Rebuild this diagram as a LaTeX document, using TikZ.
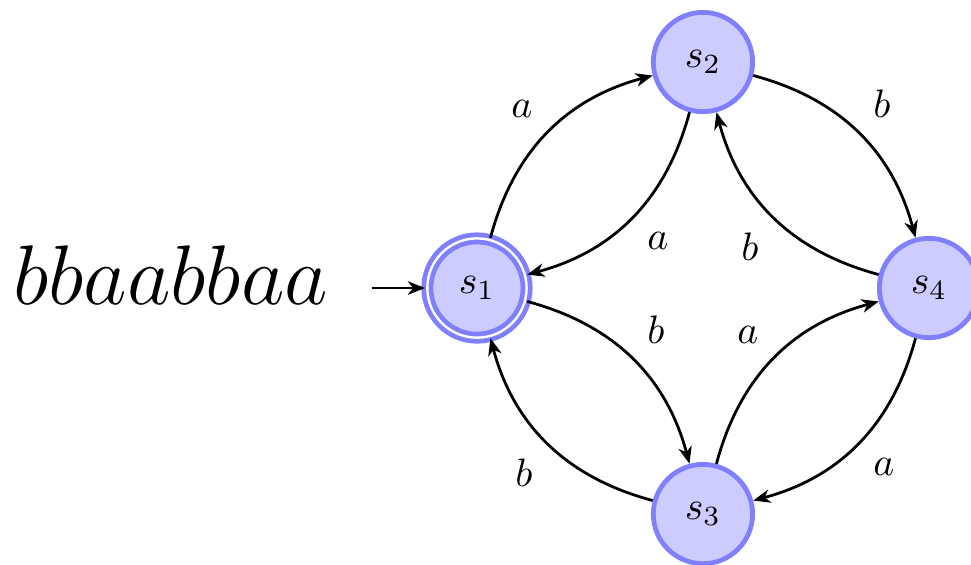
\documentclass[tikz,border=0pt]{standalone}
\usepackage{tikz}
\usetikzlibrary{arrows.meta}

\tikzset{
	stnode/.style={circle, draw=blue!50, fill=blue!20, very thick, minimum size=25pt, inner sep=0pt},
	accepting/.style={double, double distance=0.6pt},
	elabel/.style={auto, inner sep=3.5pt},
	trans/.style={line width=0.7pt, -{Stealth[length=4.3pt, width=3.4pt, inset=1.3pt]}}
}

\begin{document}
\begin{tikzpicture}
			%%%%% START %%%%%
			\useasboundingbox (-4.221, -2.451) rectangle (4.372, 2.549);
			
			\node[stnode, accepting] (s1) at (0, 0) {$s_1$};
			\node[stnode] (s2) at (2, 2) {$s_2$};
			\node[stnode] (s3) at (2, -2) {$s_3$};
			\node[stnode] (s4) at (4, 0) {$s_4$};
			
			\node[anchor=base, scale=1.027] (word) at (-2.71, -0.15) {\huge $bbaabbaa$};
			\coordinate (in1) at (-0.93, 0);
			\draw[trans] (in1) -- (s1);
			
			\draw[trans] (s1) to[bend left] node[elabel] {$a$} (s2);
			\draw[trans] (s2) to[bend left] node[elabel] {$a$} (s1);
			\draw[trans] (s2) to[bend left] node[elabel] {$b$} (s4);
			\draw[trans] (s4) to[bend left] node[elabel] {$b$} (s2);
			
			\draw[trans] (s1) to[bend left] node[elabel] {$b$} (s3);
			\draw[trans] (s3) to[bend left] node[elabel] {$b$} (s1);
			\draw[trans] (s3) to[bend left] node[elabel] {$a$} (s4);
			\draw[trans] (s4) to[bend left] node[elabel] {$a$} (s3);
			
			%%%%% END %%%%%
\end{tikzpicture}
\end{document}
